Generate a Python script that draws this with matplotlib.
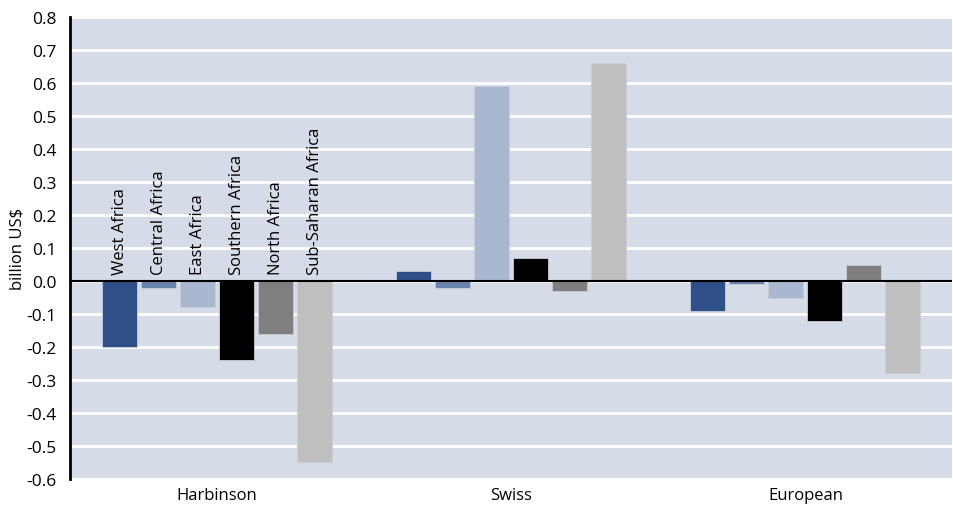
import numpy as np
import matplotlib
matplotlib.use('Agg')
import matplotlib.pyplot as plt

groups = ['Harbinson', 'Swiss', 'European']
regions = ['West Africa', 'Central Africa', 'East Africa', 'Southern Africa',
           'North Africa', 'Sub-Saharan Africa']
values = {
    'West Africa':        [-0.20, 0.03, -0.09],
    'Central Africa':     [-0.02, -0.02, -0.01],
    'East Africa':        [-0.08, 0.59, -0.05],
    'Southern Africa':    [-0.24, 0.07, -0.12],
    'North Africa':       [-0.16, -0.03, 0.05],
    'Sub-Saharan Africa': [-0.55, 0.66, -0.28],
}
yticks = [-0.6, -0.5, -0.4, -0.3, -0.2, -0.1, 0.0, 0.1, 0.2, 0.3, 0.4, 0.5, 0.6, 0.7, 0.8]

COLORS = ['#2e4f88', '#6a82ae', '#aab7d0', '#000000', '#7f7f7f', '#bfbfbf']
BG = '#d5dbe7'
plt.rcParams['font.family'] = ['Open Sans', 'DejaVu Sans']

fig = plt.figure(figsize=(9.54, 5.06), dpi=100)
ax = fig.add_axes([0.0734, 0.0514, 0.925, 0.9126])
ax.set_facecolor(BG)

x = np.arange(len(groups))
step, w = 0.1327, 0.119
for i, r in enumerate(regions):
    pos = x + (i - 2.5) * step
    ax.bar(pos, values[r], w, color=COLORS[i], edgecolor='#c8cdd8', linewidth=0.6, zorder=3)
    # region label above the first group
    ax.text(pos[0], 0.02, r, rotation=90, ha='center', va='bottom', fontsize=12, zorder=4)

ax.axhline(0, color='black', lw=1.5, zorder=4)
ax.set_xlim(-0.5, 2.5)
ax.set_ylim(-0.6, 0.8)
ax.set_yticks(yticks)
ax.set_yticklabels([f'{t:.1f}' for t in yticks], fontsize=12.5)
ax.yaxis.grid(True, color='white', lw=2)
ax.set_axisbelow(True)
ax.set_xticks(x)
ax.set_xticklabels(groups, fontsize=12)
ax.tick_params(axis='x', length=0, pad=5.5)
ax.tick_params(axis='y', length=0, pad=10)
for s in ('top', 'right', 'bottom'):
    ax.spines[s].set_visible(False)
ax.spines['left'].set_linewidth(2)
ax.spines['left'].set_color('black')
ax.set_ylabel('billion US$', fontsize=12, labelpad=0)

fig.savefig('out.png', dpi=100)
